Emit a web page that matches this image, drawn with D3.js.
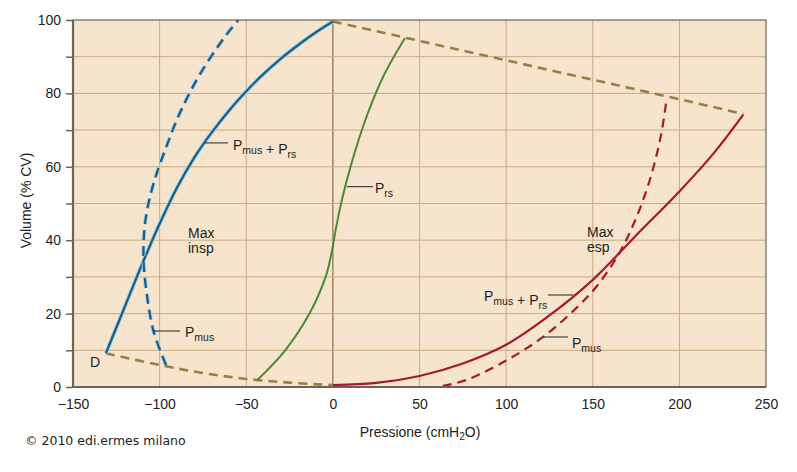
<!DOCTYPE html>
<html><head><meta charset="utf-8">
<script src="https://cdn.jsdelivr.net/npm/d3@7"></script>
<style>
html,body{margin:0;padding:0;background:#fff;}
svg{display:block;}
</style></head>
<body>
<svg id="chart" width="797" height="472"></svg>
<script>
// ---- data ----
const xTicks = [-150,-100,-50,0,50,100,150,200,250];
const yTicks = [0,20,40,60,80,100];
const xGrid = [-100,-50,0,50,100,150,200];
const yGrid = [10,20,30,40,50,60,70,80,90];
// inspiratory Pmus + Prs (blue solid)
const inspTotal = [[-131,9.2],[-120,22],[-110,33.6],[-100,44.5],[-90,54.3],[-80,62.5],[-70,69.3],[-60,75.3],[-50,80.6],[-40,85.3],[-30,89.5],[-20,93.2],[-10,96.6],[0,99.6]];
// inspiratory Pmus (blue dashed)
const inspMus = [[-96.3,6],[-103.4,15],[-107.3,25],[-109.3,35],[-108.3,45],[-103.8,55],[-96.5,65],[-88,75],[-77,85],[-63,95],[-54.6,100]];
// Prs (green)
const relax = [[-44,1.7],[-27.5,10],[-13.5,20],[-4.2,30],[-1,36],[1.3,42],[3.8,48],[7.3,55],[13.3,65],[20.5,75],[29.5,85],[41.6,95.1]];
// expiratory Pmus + Prs (red solid)
const expTotal = [[0,0.5],[25,1.1],[50,3],[75,6.4],[100,11.5],[125,19.5],[150,29.2],[175,41.3],[200,53.3],[220,63.8],[236.9,74.2]];
// expiratory Pmus (red dashed)
const expMus = [[63.4,0.3],[77,1.9],[100,7.2],[121.5,13.7],[140,21.3],[152.2,27.4],[165.7,36.8],[175,46],[182,55],[187,63.5],[190.3,71],[192.7,78.7]];
// envelope (brown dashed)
const envTop = [[0,99.6],[192.7,79.2],[236.9,74.4]];
const envBottom = [[-131,9.2],[-100,6],[-75,3.8],[-50,2.2],[-25,1.2],[0,0.5]];

// ---- layout ----
const svg = d3.select('#chart');
const L = 73, R = 766, T = 20, B = 387;
const x = d3.scaleLinear().domain([-150,250]).range([L,R]);
const y = d3.scaleLinear().domain([0,100]).range([B,T]);
const font = '"Liberation Sans", Arial, Helvetica, sans-serif';

svg.append('rect').attr('x',L).attr('y',T).attr('width',R-L).attr('height',B-T).attr('fill','#f6e4cd');

const g = svg.append('g');
g.selectAll('.vg').data(xGrid).enter().append('line')
  .attr('x1',d=>x(d)).attr('x2',d=>x(d)).attr('y1',T).attr('y2',B)
  .attr('stroke',d=>d===0?'#8f7450':'#c9ab84').attr('stroke-width',d=>d===0?1.3:1);
g.selectAll('.hg').data(yGrid).enter().append('line')
  .attr('x1',L).attr('x2',R).attr('y1',d=>y(d)).attr('y2',d=>y(d))
  .attr('stroke','#c9ab84').attr('stroke-width',1);

const line = d3.line().x(d=>x(d[0])).y(d=>y(d[1])).curve(d3.curveCatmullRom.alpha(0.5));
const lineL = d3.line().x(d=>x(d[0])).y(d=>y(d[1]));

const brown = '#9a7f45';
svg.append('path').attr('d',lineL(envTop)).attr('fill','none').attr('stroke',brown).attr('stroke-width',2.6).attr('stroke-dasharray','9,6');
svg.append('path').attr('d',line(envBottom)).attr('fill','none').attr('stroke',brown).attr('stroke-width',2.6).attr('stroke-dasharray','9,6');

// blue
const blue = '#1d5e86', halo = '#a9d7ea';
svg.append('path').attr('d',line(inspTotal)).attr('fill','none').attr('stroke',halo).attr('stroke-width',4.2);
svg.append('path').attr('d',line(inspTotal)).attr('fill','none').attr('stroke',blue).attr('stroke-width',2.3);
svg.append('path').attr('d',line(inspMus)).attr('fill','none').attr('stroke',halo).attr('stroke-width',4.2).attr('stroke-dasharray','10,6');
svg.append('path').attr('d',line(inspMus)).attr('fill','none').attr('stroke',blue).attr('stroke-width',2.3).attr('stroke-dasharray','10,6');
// green
svg.append('path').attr('d',line(relax)).attr('fill','none').attr('stroke','#4b8a30').attr('stroke-width',2);
// red
const red = '#a5192f';
svg.append('path').attr('d',line(expTotal)).attr('fill','none').attr('stroke',red).attr('stroke-width',2.2);
svg.append('path').attr('d',line(expMus)).attr('fill','none').attr('stroke',red).attr('stroke-width',2.2).attr('stroke-dasharray','9,6');

// frame
const axc = '#6d6358';
svg.append('rect').attr('x',L).attr('y',T).attr('width',R-L).attr('height',B-T).attr('fill','none').attr('stroke',axc).attr('stroke-width',1.2);
svg.append('line').attr('x1',L).attr('x2',L).attr('y1',T).attr('y2',B+1).attr('stroke',axc).attr('stroke-width',2.2);
svg.append('line').attr('x1',L-1).attr('x2',R).attr('y1',B).attr('y2',B).attr('stroke',axc).attr('stroke-width',2.2);

// y axis ticks
const yAxis = d3.axisLeft(y).tickValues(d3.range(0,101,10)).tickSize(7).tickFormat(d=>yTicks.includes(d)?d:'');
const ya = svg.append('g').attr('transform',`translate(${L},0)`).call(yAxis);
ya.select('.domain').remove();
ya.selectAll('line').attr('stroke',axc).attr('stroke-width',1.5);
ya.selectAll('text').attr('font-family',font).attr('font-size',14).attr('fill','#222').attr('dx',-2);

// x axis labels
const xAxis = d3.axisBottom(x).tickValues(xTicks).tickSize(0).tickPadding(12)
  .tickFormat(d=>d<0?'\u2212'+Math.abs(d):d);
const xa = svg.append('g').attr('transform',`translate(0,${B})`).call(xAxis);
xa.select('.domain').remove();
xa.selectAll('text').attr('font-family',font).attr('font-size',14).attr('fill','#222');

// axis titles
svg.append('text').attr('transform',`translate(31,${(T+B)/2-3}) rotate(-90)`).attr('text-anchor','middle')
  .attr('font-family',font).attr('font-size',14).attr('fill','#222').text('Volume (% CV)');
const xt = svg.append('text').attr('x',420).attr('y',437).attr('text-anchor','middle')
  .attr('font-family',font).attr('font-size',14).attr('fill','#222');
xt.append('tspan').text('Pressione (cmH');
xt.append('tspan').attr('font-size',10).attr('dy',3).text('2');
xt.append('tspan').attr('dy',-3).text('O)');

svg.append('text').attr('x',25).attr('y',445).attr('font-family','"DejaVu Sans", Verdana, sans-serif')
  .attr('font-size',12.5).attr('fill','#222').text('\u00a9 2010 edi.ermes milano');

// annotations
function plain(px,py,txt){
  svg.append('text').attr('x',px).attr('y',py).attr('font-family',font).attr('font-size',14).attr('fill','#222').text(txt);
}
function label(px,py,parts){
  const t = svg.append('text').attr('x',px).attr('y',py).attr('font-family',font).attr('font-size',14).attr('fill','#222');
  parts.forEach(p=>{
    if(p.sub){ t.append('tspan').attr('font-size',10.5).attr('dy',4).text(p.t); t.append('tspan').attr('dy',-4).text(''); }
    else t.append('tspan').text(p.t);
  });
}
function leader(x1,y1,x2,y2){
  svg.append('line').attr('x1',x1).attr('x2',x2).attr('y1',y1).attr('y2',y2).attr('stroke','#222').attr('stroke-width',1);
}
plain(90,367,'D');
plain(188,238,'Max'); plain(188,253,'insp');
plain(587,237,'Max'); plain(587,252,'esp');

leader(x(-73.8),y(66.5),228,y(66.5));
label(233,150,[{t:'P'},{t:'mus',sub:true},{t:' + P'},{t:'rs',sub:true}]);
leader(x(-103.6),331,180,331);
label(185,337,[{t:'P'},{t:'mus',sub:true}]);
leader(x(8),186.7,373,186.7);
label(375,193,[{t:'P'},{t:'rs',sub:true}]);
leader(548,295,x(138.8),295);
label(484,301,[{t:'P'},{t:'mus',sub:true},{t:' + P'},{t:'rs',sub:true}]);
leader(x(121.5),337,568,337);
label(572,348,[{t:'P'},{t:'mus',sub:true}]);
</script>
</body></html>
